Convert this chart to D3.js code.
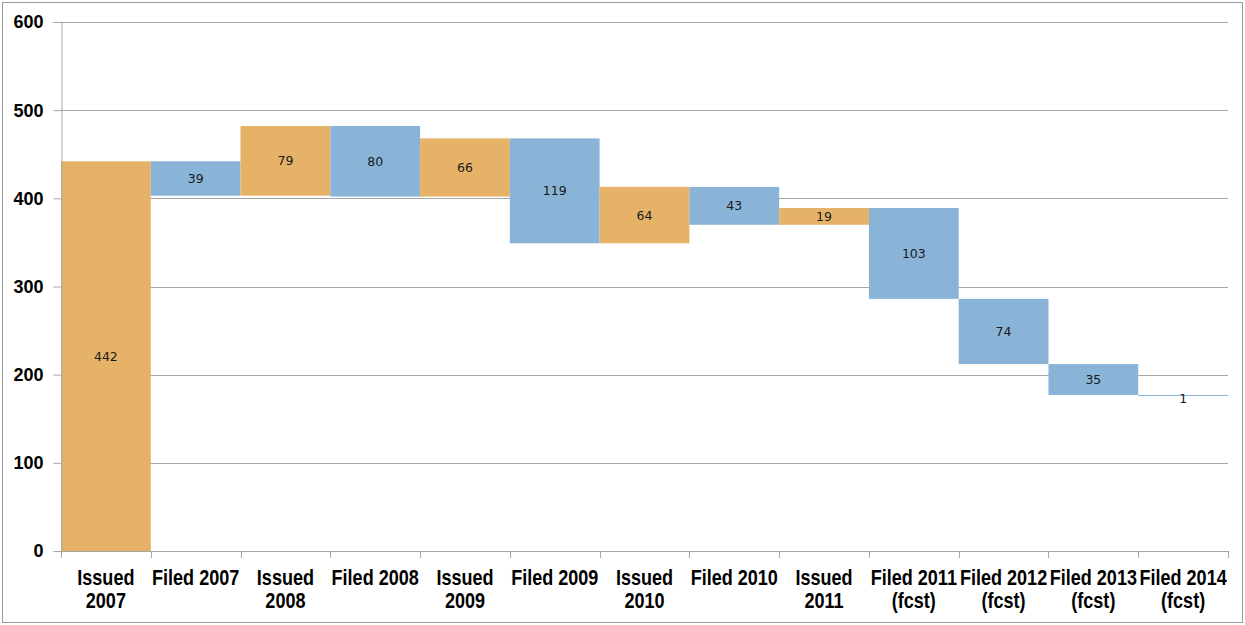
<!DOCTYPE html>
<html><head><meta charset="utf-8">
<script src="https://cdn.jsdelivr.net/npm/d3@7"></script>
<style>body{margin:0;background:#fff}svg{display:block}</style>
</head><body>
<svg id="c" width="1245" height="625"></svg>
<script>
const categories = [["Issued","2007"],["Filed 2007"],["Issued","2008"],["Filed 2008"],["Issued","2009"],["Filed 2009"],["Issued","2010"],["Filed 2010"],["Issued","2011"],["Filed 2011","(fcst)"],["Filed 2012","(fcst)"],["Filed 2013","(fcst)"],["Filed 2014","(fcst)"]];
const kinds = ["issued","filed","issued","filed","issued","filed","issued","filed","issued","filed","filed","filed","filed"];
const values = [442,39,79,80,66,119,64,43,19,103,74,35,1];
const yTicks = [0,100,200,300,400,500,600];

const colors = {issued:"#E6B268", filed:"#89B4D8"};
const svg = d3.select("#c");
const m = {l:61, r:1228, t:22, b:551};

svg.append("rect").attr("x",2.5).attr("y",2.5).attr("width",1240).attr("height",620)
  .attr("fill","none").attr("stroke","#9a9a9a").attr("stroke-width",1);

const x = d3.scaleBand().domain(d3.range(categories.length)).range([m.l,m.r]).padding(0);
const y = d3.scaleLinear().domain([0,600]).range([m.b,m.t]);

// running totals
let run = 0;
const bars = values.map((v,i)=>{
  const s = run;
  run = kinds[i]==="issued" ? run + v : run - v;
  return {i, v, kind:kinds[i], lo:Math.min(s,run), hi:Math.max(s,run)};
});

// gridlines
svg.append("g").selectAll("line").data(yTicks.filter(d=>d>0)).join("line")
  .attr("x1",m.l).attr("x2",m.r).attr("y1",d=>Math.round(y(d))+0.5).attr("y2",d=>Math.round(y(d))+0.5)
  .attr("stroke","#a6a6a6").attr("stroke-width",1);

// bars
svg.append("g").selectAll("rect").data(bars).join("rect")
  .attr("x",d=>x(d.i)).attr("width",x.bandwidth())
  .attr("y",d=>y(d.hi)).attr("height",d=>Math.max(1,y(d.lo)-y(d.hi)))
  .attr("fill",d=>colors[d.kind]);

// data labels
svg.append("g").selectAll("text").data(bars).join("text")
  .attr("x",d=>x(d.i)+x.bandwidth()/2)
  .attr("y",d=>(y(d.lo)+y(d.hi))/2 + 4.5 + (d.v<5?3:0))
  .attr("text-anchor","middle")
  .attr("font-family","DejaVu Sans, Verdana, sans-serif").attr("font-size",12.5)
  .attr("fill","#1a1a1a").text(d=>d.v);

// y axis
const ya = svg.append("g").attr("transform",`translate(${m.l+0.5},0)`)
  .call(d3.axisLeft(y).tickValues(yTicks).tickSize(8).tickPadding(10).tickFormat(d3.format("d")));
ya.select(".domain").attr("stroke","#a6a6a6");
ya.selectAll(".tick line").attr("stroke","#a6a6a6");
ya.selectAll("text").attr("font-family","Liberation Sans, Arial, sans-serif").attr("font-weight","bold")
  .attr("font-size",18).attr("fill","#000").attr("dy","0.33em");

// x axis
svg.append("line").attr("x1",m.l).attr("x2",m.r).attr("y1",m.b+0.5).attr("y2",m.b+0.5).attr("stroke","#a6a6a6");
svg.append("g").selectAll("line").data(d3.range(categories.length+1)).join("line")
  .attr("x1",i=>Math.round(m.l+i*x.step())+0.5).attr("x2",i=>Math.round(m.l+i*x.step())+0.5)
  .attr("y1",m.b).attr("y2",m.b+7).attr("stroke","#a6a6a6");

const xl = svg.append("g").selectAll("text").data(categories).join("text")
  .attr("x",(d,i)=>x(i)+x.bandwidth()/2).attr("y",585)
  .attr("transform",(d,i)=>{const cx=x(i)+x.bandwidth()/2;return `translate(${cx},0) scale(0.82,1) translate(${-cx},0)`;})
  .attr("text-anchor","middle")
  .attr("font-family","Liberation Sans, Arial, sans-serif").attr("font-weight","bold")
  .attr("font-size",22).attr("fill","#000");
xl.selectAll("tspan").data(d=>d).join("tspan")
  .attr("x",function(){return this.parentNode.getAttribute("x");})
  .attr("dy",(d,j)=>j===0?0:23.5).text(d=>d);
</script>
</body></html>
